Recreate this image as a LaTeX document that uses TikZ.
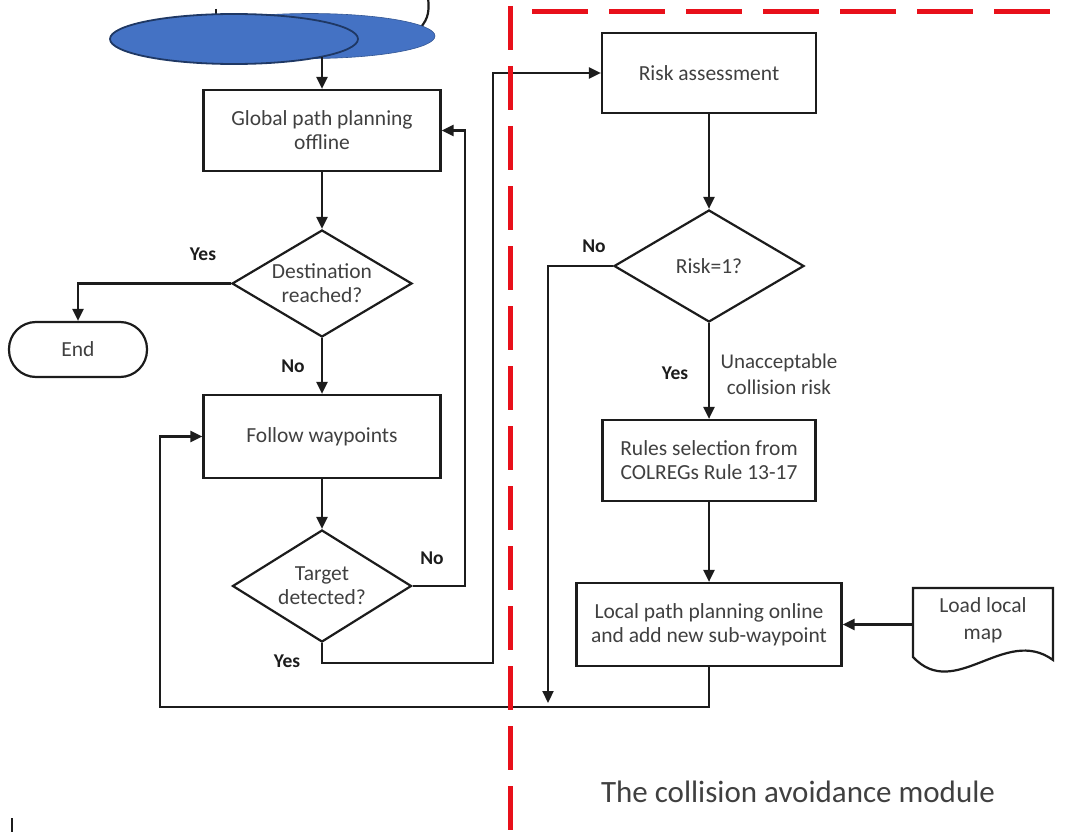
\documentclass[tikz,border=0pt]{standalone}
\usepackage{fontspec}
\setmainfont{Carlito}
\usetikzlibrary{arrows.meta,shapes.geometric}
\definecolor{inkgray}{HTML}{404040}
\definecolor{linegray}{HTML}{1C1C1C}
\definecolor{ovalblue}{HTML}{4472C4}
\definecolor{ovalnavy}{HTML}{1F3864}
\definecolor{dashred}{HTML}{E8101A}
\tikzset{
  procbox/.style={rectangle,draw=linegray,line width=2.2pt,fill=white,inner sep=0pt,
    align=center,text=inkgray,font=\fontsize{21.5}{24}\selectfont},
  decision/.style={diamond,aspect=1.7,draw=linegray,line width=2.2pt,fill=white,inner sep=0pt,
    align=center,text=inkgray,font=\fontsize{21.5}{24}\selectfont},
  terminal/.style={rectangle,rounded corners=27pt,draw=linegray,line width=2.2pt,fill=white,
    inner sep=0pt,text=inkgray,font=\fontsize{21.5}{24}\selectfont},
  flowline/.style={draw=linegray,line width=2.2pt,-{Triangle[length=12pt,width=11pt]}},
  plainline/.style={draw=linegray,line width=2.2pt},
  answer/.style={font=\bfseries\fontsize{19.5}{22}\selectfont,text=linegray,inner sep=0pt},
  redsplit/.style={draw=dashred,line width=5pt}
}

\begin{document}
\begin{tikzpicture}[x=1pt,y=-1pt]
        \useasboundingbox (0,0) rectangle (1068,832);
        \draw[plainline] (216,9) -- (216,22);
        \draw[plainline] (428,-2) .. controls (430,14) and (427,22) .. (416,32);
        \node[ellipse,fill=ovalblue,draw=ovalblue!75!black,line width=0.6pt,
          minimum width=250pt,minimum height=45pt] (ovalback) at (310,36) {};
        \node[ellipse,fill=ovalblue,draw=ovalnavy,line width=1.8pt,
          minimum width=248pt,minimum height=50pt] (ovalfront) at (234,39) {};
        \coordinate (ovalexit) at (322,57);

        \node[procbox,minimum width=237pt,minimum height=81pt] (globalplan) at (322,130.5) {Global path planning\\offline};
        \node[decision,minimum width=180pt,minimum height=107pt] (destcheck) at (322,283.5) {Destination\\reached?};
        \node[terminal,minimum width=138pt,minimum height=55pt] (endnode) at (78,349.5) {End};
        \node[procbox,minimum width=237pt,minimum height=83pt] (followwp) at (322,436.5) {Follow waypoints};
        \node[decision,minimum width=179pt,minimum height=112pt] (targetcheck) at (322,586) {Target\\detected?};

        \node[procbox,minimum width=214pt,minimum height=80pt] (riskassess) at (709,73) {Risk assessment};
        \node[decision,minimum width=190pt,minimum height=112pt] (riskcheck) at (709,266) {Risk=1?};
        \node[procbox,minimum width=213pt,minimum height=81pt] (rulesel) at (709,460.5) {Rules selection from\\COLREGs Rule 13-17};
        \node[procbox,minimum width=265pt,minimum height=83pt] (localplan) at (709,624.5) {Local path planning online\\and add new sub-waypoint};

        \draw[plainline,fill=white] (913,588) -- (1053,588) -- (1053,660)
          .. controls (1005,625) and (955,702) .. (913,657) -- cycle;
        \node[inner sep=0pt,minimum width=140pt,minimum height=64pt,align=center,text=inkgray,
          font=\fontsize{21.5}{27}\selectfont] (localmap) at (983,620) {Load local\\map};

        \draw[flowline] (ovalexit) -- (globalplan.north);
        \draw[flowline] (globalplan.south) -- (destcheck.north);
        \draw[flowline] (destcheck.west) -| (endnode.north);
        \draw[flowline] (destcheck.south) -- (followwp.north);
        \draw[flowline] (followwp.south) -- (targetcheck.north);
        \draw[flowline] (targetcheck.east) -- ++(52,0) |- (globalplan.east);
        \draw[flowline] (targetcheck.south) |- (493,663) |- (riskassess.west);
        \draw[flowline] (riskassess.south) -- (riskcheck.north);
        \draw[flowline] (riskcheck.west) -| (548,703);
        \draw[flowline] (riskcheck.south) -- (rulesel.north);
        \draw[flowline] (rulesel.south) -- (localplan.north);
        \draw[flowline] (localmap.west |- localplan.east) -- (localplan.east);
        \draw[flowline] (localplan.south) |- (160,707) |- (followwp.west);

        \node[answer] (destyes) at (203,254) {Yes};
        \node[answer] (destno) at (293,366) {No};
        \node[answer] (targetno) at (432,558) {No};
        \node[answer] (targetyes) at (287,661) {Yes};
        \node[answer] (riskno) at (594,246) {No};
        \node[answer] (riskyes) at (675,373) {Yes};
        \node[align=center,inner sep=0pt,text=inkgray,font=\fontsize{21}{26}\selectfont]
          (risknote) at (779,374) {Unacceptable\\collision risk};

        \node[inner sep=0pt,text=inkgray,font=\fontsize{31}{36}\selectfont] (moduletitle) at (798,792) {The collision avoidance module};

        \draw[redsplit,dash pattern=on 44pt off 16pt] (510,6) -- (510,832);
        \draw[redsplit,dash pattern=on 56pt off 21pt] (532,12) -- (1068,12);
        \draw[linegray,line width=2.5pt] (12,818) -- (12,832);
      \end{tikzpicture}
\end{document}
